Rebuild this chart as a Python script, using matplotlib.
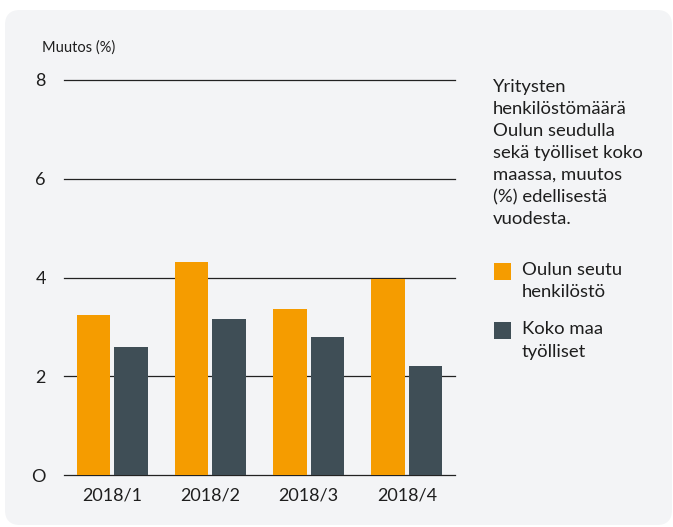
import matplotlib.pyplot as plt
from matplotlib.patches import FancyBboxPatch
import numpy as np

plt.rcParams['font.family'] = ['Lato', 'DejaVu Sans']

# data
quarters = ['2018/1', '2018/2', '2018/3', '2018/4']
oulu = [3.24, 4.31, 3.37, 3.97]
koko_maa = [2.60, 3.16, 2.80, 2.21]
yticks = [0, 2, 4, 6, 8]
ytick_labels = ['O', '2', '4', '6', '8']

orange = '#f59c00'
dark = '#3f4e56'
panel = '#f3f4f6'
txt = '#1e1e1e'

W, H = 673, 527
fig = plt.figure(figsize=(W / 100, H / 100), dpi=100)
fig.patch.set_facecolor('white')

# rounded grey panel behind everything
box = FancyBboxPatch((5 + 15, 2 + 15), 667 - 30, 515 - 30,
                     boxstyle='round,pad=15', transform=None,
                     facecolor=panel, edgecolor='none', zorder=-5)
fig.patches.append(box)

ax = fig.add_axes([64 / W, 52 / H, 391 / W, 395 / H])
ax.set_facecolor('none')
ax.set_zorder(2)

x = np.arange(len(quarters))
w = 0.34
ax.bar(x - 0.19, oulu, width=w, color=orange, zorder=3)
ax.bar(x + 0.19, koko_maa, width=w, color=dark, zorder=3)

ax.set_xlim(-0.49, 3.49)
ax.set_ylim(0, 8)
for v in yticks:
    ax.axhline(v, color='#222222', lw=0.9, zorder=2, clip_on=False)

ax.set_yticks(yticks)
ax.set_yticklabels(ytick_labels, fontsize=13, color=txt)
ax.set_xticks(x)
ax.set_xticklabels(quarters, fontsize=13, color=txt)
ax.tick_params(axis='y', length=0, pad=13)
ax.tick_params(axis='x', length=0, pad=9)
for s in ax.spines.values():
    s.set_visible(False)

fig.text(42 / W, 1 - 48 / H, 'Muutos (%)', fontsize=10.5, color=txt,
         ha='left', va='center')

fig.text(493 / W, 1 - 79 / H,
         'Yritysten\nhenkilöstömäärä\nOulun seudulla\nsekä työlliset koko\n'
         'maassa, muutos\n(%) edellisestä\nvuodesta.',
         fontsize=13.3, color=txt, ha='left', va='top', linespacing=1.46)

# legend
for y0, col, label in [(263, orange, 'Oulun seutu\nhenkilöstö'),
                       (322, dark, 'Koko maa\ntyölliset')]:
    sq = plt.Rectangle((494, H - y0 - 17), 17, 17, transform=None,
                       facecolor=col, edgecolor='none')
    fig.patches.append(sq)
    fig.text(522 / W, 1 - (y0 - 1) / H, label, fontsize=13.3, color=txt,
             ha='left', va='top', linespacing=1.5)

fig.savefig('out.png', dpi=100, facecolor='white')
